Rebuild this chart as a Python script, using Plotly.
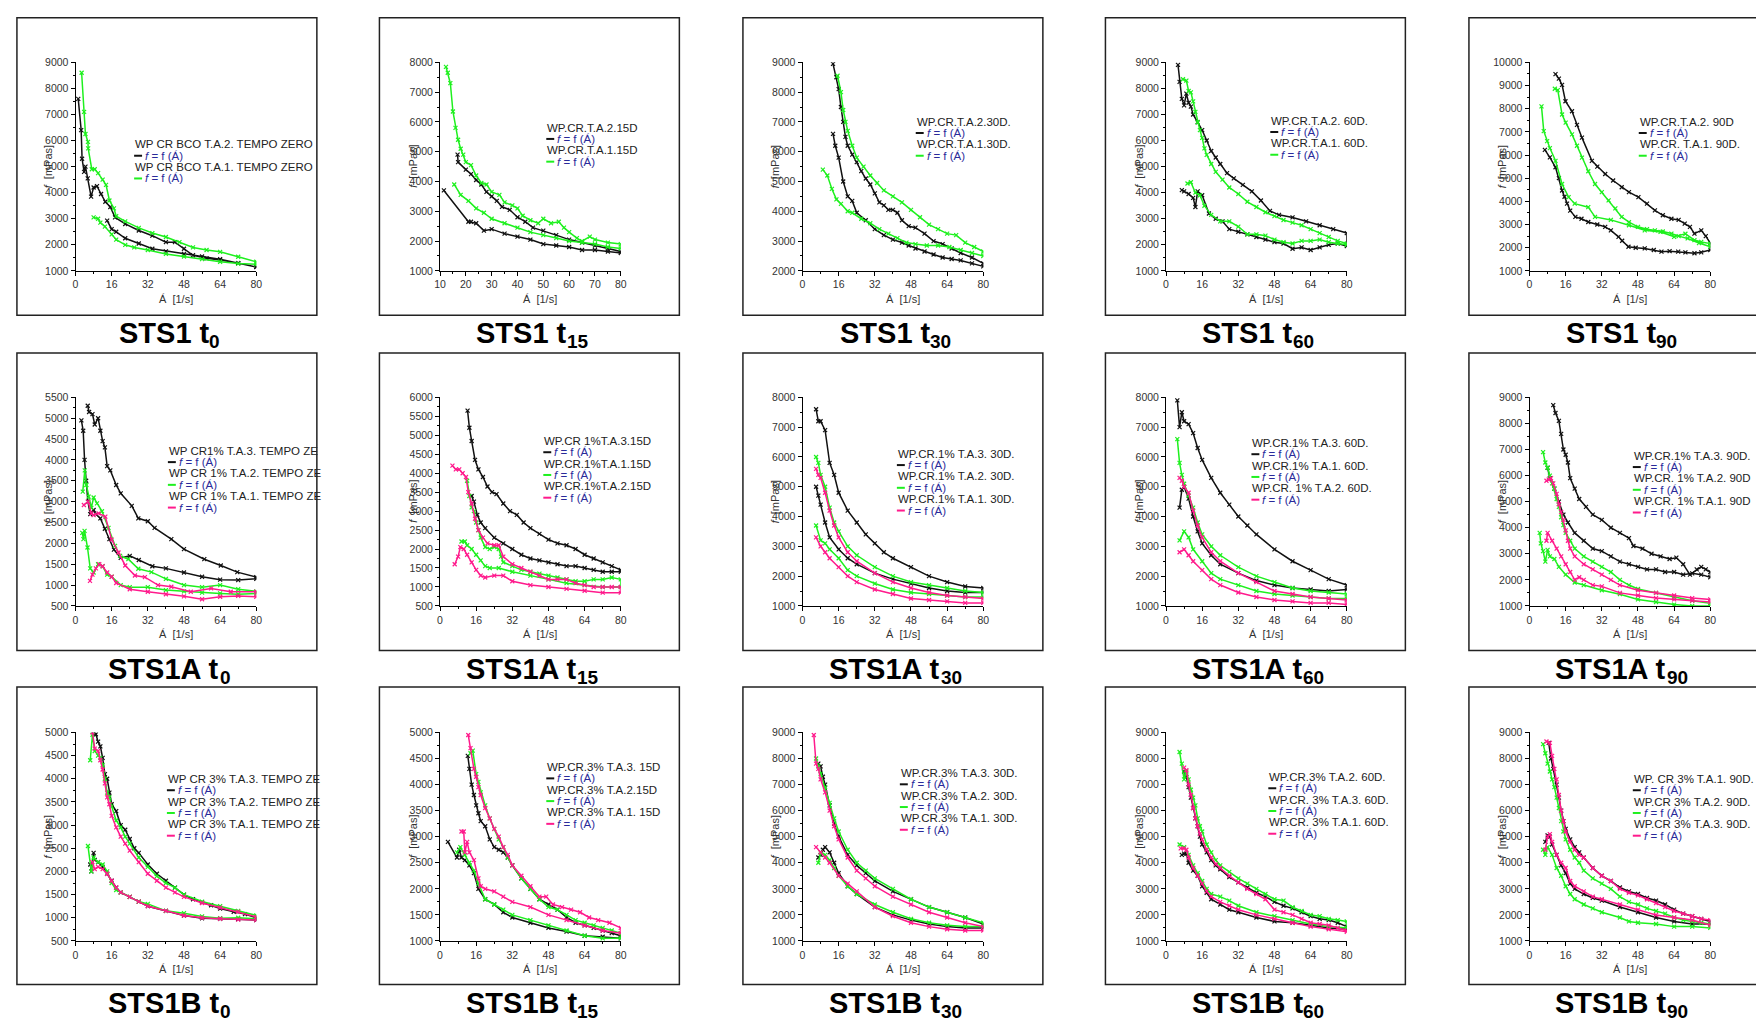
import plotly.graph_objects as go

W, H = 1756, 1028

# ---------------- data (x = shear rate [1/s], y = viscosity [mPas]) ----------------
# each series: upward branch followed by downward branch (hysteresis loop)
P01_K_X = [1.2, 2.5, 2.9, 3.8, 4.4, 5.4, 6.9, 8.0, 9.5, 11.3, 13.2, 15.4, 17.5, 22, 28, 34, 40, 44, 48, 52, 58, 64, 72, 80,
           80, 72, 64, 56, 48, 40, 34, 28, 22, 18, 16, 14]
P01_K_Y = [7600, 6400, 5300, 4800, 5000, 4550, 3850, 4200, 4250, 3950, 3650, 3450, 3050, 2800, 2550, 2350, 2100, 2100, 1850, 1600, 1480, 1420, 1300, 1160,
           1150, 1300, 1450, 1550, 1650, 1750, 1850, 2050, 2250, 2500, 2600, 2930]
P01_G_X = [2.7, 3.8, 4.4, 5.5, 5.6, 7.2, 8.5, 10, 12, 13.5, 15, 17, 18, 22, 28, 34, 40, 46, 52, 58, 64, 72, 80,
           80, 72, 64, 56, 48, 40, 32, 26, 22, 18, 16, 13, 11, 10, 8]
P01_G_Y = [8600, 7100, 6250, 5950, 5700, 4900, 4900, 4750, 4500, 4300, 3700, 3400, 3100, 2900, 2650, 2450, 2300, 2100, 1900, 1800, 1730, 1540, 1350,
           1250, 1280, 1350, 1450, 1550, 1650, 1800, 1900, 2000, 2200, 2400, 2700, 2850, 3000, 3050]

P02_K_X = [16.8, 17, 20, 22, 24, 26, 28, 30, 32, 34, 37, 40, 43, 46, 50, 55, 60, 65, 70, 75, 80,
           80, 75, 70, 65, 60, 55, 50, 45, 40, 35, 30, 27, 24, 22, 21, 11.5]
P02_K_Y = [4900, 4650, 4400, 4250, 4050, 3900, 3650, 3500, 3350, 3150, 3050, 2800, 2650, 2450, 2350, 2200, 2050, 1950, 1850, 1750, 1650,
           1600, 1650, 1700, 1700, 1800, 1850, 1900, 2050, 2150, 2250, 2400, 2350, 2600, 2650, 2650, 3700]
P02_G_X = [12.3, 13, 14, 15, 16, 17, 18, 19, 20, 22, 24, 26, 28, 30, 33, 35, 38, 40, 42, 45, 48, 50, 53, 56, 58, 60, 63, 65, 68, 70, 75, 80,
           80, 75, 70, 65, 60, 55, 50, 45, 40, 35, 30, 27, 24, 21, 18, 15.5]
P02_G_Y = [7850, 7650, 7300, 6350, 5800, 5400, 5100, 4900, 4650, 4550, 4200, 3950, 3900, 3650, 3550, 3300, 3200, 3100, 2850, 2700, 2600, 2750, 2600, 2650, 2450, 2300, 2100, 2000, 2150, 2050, 1950, 1900,
           1750, 1800, 1900, 1950, 2000, 2100, 2200, 2300, 2450, 2600, 2750, 2950, 3100, 3350, 3550, 3900]

P03_K_X = [13.5, 15, 16, 17, 18, 19, 20, 22, 24, 26, 28, 30, 32, 34, 36, 38, 40, 42, 44, 47, 50, 54, 58, 62, 66, 70, 75, 80,
           80, 75, 70, 66, 62, 58, 54, 50, 47, 44, 40, 36, 32, 28, 24, 22, 20, 18, 16, 14.5, 13.5]
P03_K_Y = [8950, 8500, 8100, 7500, 7000, 6500, 6200, 5900, 5650, 5350, 5100, 4900, 4600, 4300, 4200, 4050, 4050, 3950, 3700, 3500, 3450, 3250, 3000, 2900, 2750, 2600, 2450, 2250,
           2150, 2250, 2350, 2400, 2450, 2550, 2650, 2750, 2850, 2950, 3050, 3200, 3400, 3700, 3950, 4350, 4500, 5000, 5800, 6200, 6600]
P03_G_X = [15.5, 17, 18, 19, 20, 22, 24, 27, 30, 33, 36, 40, 44, 48, 52, 56, 60, 64, 68, 72, 76, 80,
           80, 75, 70, 65, 60, 55, 50, 46, 42, 38, 34, 30, 26, 22, 20, 17, 15, 13, 11, 9]
P03_G_Y = [8550, 8000, 7400, 7000, 6700, 6200, 5800, 5500, 5200, 4950, 4700, 4500, 4300, 4050, 3800, 3550, 3400, 3250, 3200, 2950, 2800, 2650,
           2500, 2600, 2700, 2800, 2850, 2850, 2900, 2950, 3100, 3250, 3400, 3600, 3750, 3950, 4000, 4250, 4400, 4750, 5200, 5400]

P04_K_X = [5.3, 6, 7, 8, 9, 10, 11, 12, 14, 16, 18, 20, 22, 24, 27, 30, 34, 38, 42, 46, 50, 56, 62, 68, 74, 80,
           80, 76, 72, 68, 64, 60, 56, 52, 48, 44, 40, 36, 32, 28, 25, 22, 19, 16, 14, 13, 12, 10, 8, 7]
P04_K_Y = [8900, 8250, 7600, 7350, 7800, 7450, 7300, 7000, 6700, 6400, 6000, 5600, 5350, 5100, 4750, 4550, 4300, 4050, 3700, 3300, 3150, 3050, 2900, 2750, 2600, 2450,
           1950, 2050, 2000, 1900, 1800, 1900, 1850, 2050, 2100, 2200, 2300, 2400, 2500, 2600, 2900, 3000, 3200, 3900, 4050, 3450, 3800, 3950, 4050, 4100]
P04_G_X = [7.5, 9, 10, 11, 12, 13, 14, 15, 16, 17, 18, 20, 22, 25, 28, 32, 36, 40, 44, 48, 52, 56, 60, 64, 68, 72, 76, 80,
           80, 76, 72, 68, 64, 60, 56, 52, 48, 44, 40, 36, 32, 28, 24, 20, 17, 15, 13, 11, 9.5]
P04_G_Y = [8350, 8300, 7900, 7850, 7500, 7100, 6700, 6400, 6100, 5700, 5450, 5100, 4800, 4500, 4200, 3950, 3650, 3450, 3250, 3100, 2950, 2850, 2750, 2600, 2450, 2300, 2150, 2050,
           2000, 2050, 2100, 2200, 2150, 2150, 2050, 2100, 2200, 2350, 2400, 2400, 2700, 2900, 2900, 3150, 3500, 3900, 4000, 4400, 4350]

P05_K_X = [11.5, 13, 14.4, 15.9, 18.8, 21, 23.2, 27.6, 30, 33.5, 37, 40.8, 44, 48.2, 52, 55.5, 59, 62.8, 66, 68.7, 71, 73, 76, 78, 80,
           80, 76, 73, 69, 65.8, 62, 58.4, 55, 51, 47, 43.8, 41, 39.4, 36, 33.5, 30, 26, 23, 20.3, 18, 16.6, 15.5, 14.4, 13, 11.5, 9, 6.8]
P05_K_Y = [9490, 9300, 9030, 8320, 7890, 7300, 6750, 5750, 5500, 5180, 4900, 4610, 4400, 4180, 3900, 3610, 3400, 3250, 3200, 3040, 2900, 2610, 2750, 2500, 2200,
           1900, 1800, 1760, 1800, 1830, 1850, 1830, 1900, 1970, 2000, 2040, 2300, 2470, 2750, 2900, 3000, 3110, 3250, 3330, 3600, 3900, 4200, 4470, 5000, 5470, 5900, 6220]
P05_G_X = [11.2, 12.5, 14.4, 16, 18.8, 21, 23.2, 26, 29, 32, 35, 38, 40.8, 44, 48, 52, 55.5, 59, 62.8, 66, 70, 75, 80,
           80, 76, 73, 69, 64, 58, 51, 44, 36, 29, 26, 20, 17.3, 14.4, 11.5, 9, 7.8, 6.3, 5.3]
P05_G_Y = [8860, 8800, 7750, 7400, 6890, 6400, 5890, 5300, 4750, 4400, 4040, 3700, 3330, 3100, 2900, 2800, 2750, 2700, 2610, 2500, 2400, 2200, 2040,
           2180, 2250, 2330, 2600, 2470, 2680, 2750, 2970, 3200, 3330, 3750, 3900, 4180, 4750, 5750, 6300, 6600, 7030, 8100]

P06_K_X = [5.4, 6, 7.5, 8.5, 10, 11, 12, 13, 14, 15.4, 18, 20, 24.9, 27.8, 32, 35, 42.4, 48, 57, 64.3, 71.6, 80,
           80, 72, 64, 56, 48, 40, 34, 28, 24, 20, 17, 15, 13, 11, 9, 8, 6.5, 5.5, 4.7, 4, 3.4, 2.6]
P06_K_Y = [5300, 5150, 5100, 4850, 5000, 4700, 4450, 4300, 3850, 3750, 3400, 3200, 2900, 2600, 2530, 2370, 2100, 1860, 1620, 1470, 1310, 1190,
           1150, 1120, 1130, 1200, 1300, 1400, 1450, 1600, 1700, 1650, 1850, 2100, 2350, 2600, 2700, 2800, 2700, 3000, 3500, 4000, 4700, 4950]
P06_G_X = [3.2, 4.1, 4.8, 5.8, 7, 8, 9.5, 11.7, 14.6, 17.5, 19.7, 23.4, 27.8, 33.6, 40, 48, 56, 64, 72, 80,
           80, 72, 64, 56, 48, 40, 32, 24, 20, 16, 14, 12, 10, 8, 6.5, 5.3, 4, 3.5, 3]
P06_G_Y = [3240, 3750, 3400, 3120, 2850, 3100, 2960, 2770, 2370, 1940, 1700, 1620, 1390, 1310, 1150, 1000, 950, 1000, 900, 850,
           800, 780, 800, 820, 850, 880, 950, 950, 1000, 1200, 1250, 1450, 1500, 1300, 1400, 1900, 2300, 2100, 2250]
P06_P_X = [3.7, 5.6, 7, 8, 10.2, 13.2, 16, 19, 22, 26.3, 30.7, 36.5, 42.4, 51, 60, 68.7, 80,
           80, 72, 64, 56, 48, 40, 32, 24, 18, 16, 14, 12, 10.5, 9, 7.5, 6.4]
P06_P_Y = [2920, 3000, 2720, 2680, 2720, 2640, 2090, 1780, 1470, 1230, 1190, 1000, 960, 840, 920, 840, 840,
           720, 740, 720, 660, 730, 780, 840, 900, 1050, 1200, 1300, 1450, 1500, 1400, 1250, 1100]

P07_K_X = [12.2, 13, 14, 15.5, 17, 19, 21, 23, 25, 28, 31, 34, 37, 40, 44, 48, 52, 56, 60, 64, 68, 72, 76, 80,
           80, 76, 72, 68, 64, 60, 56, 52, 48, 44, 40, 36, 32, 28, 24, 20, 18, 16.5, 15, 14]
P07_K_Y = [5650, 5200, 4850, 4350, 4100, 3900, 3650, 3500, 3450, 3200, 3000, 2900, 2700, 2550, 2400, 2250, 2150, 2100, 2000, 1850, 1750, 1650, 1550, 1450,
           1400, 1400, 1400, 1450, 1500, 1550, 1550, 1600, 1650, 1700, 1750, 1850, 2000, 2150, 2300, 2550, 2700, 2900, 3250, 3400]
P07_G_X = [12, 13, 14, 15, 16, 17, 18, 20, 22, 24, 26, 27, 28, 32, 36, 40, 44, 48, 52, 56, 60, 64, 68, 72, 76, 80,
           80, 72, 64, 56, 48, 40, 32, 26, 22, 20, 18, 16, 14, 12, 11, 9.5]
P07_G_Y = [3800, 3400, 3100, 3000, 2700, 2500, 2300, 2050, 2000, 2050, 2000, 1800, 1650, 1550, 1450, 1400, 1350, 1300, 1250, 1200, 1150, 1150, 1200, 1200, 1250, 1200,
           1000, 1000, 1050, 1100, 1200, 1300, 1400, 1500, 1500, 1550, 1700, 1850, 2000, 2100, 2200, 2200]
P07_P_X = [5.5, 7, 8.5, 10, 11.5, 12.5, 14, 15.5, 17, 19, 21, 24, 26, 28, 32, 36, 40, 44, 48, 52, 56, 60, 64, 68, 72, 76, 80,
           80, 72, 64, 56, 48, 40, 32, 28, 24, 20, 18, 16, 14, 12, 10.5, 9, 8, 6.5]
P07_P_Y = [4200, 4100, 4100, 4000, 3900, 3500, 3200, 2800, 2500, 2300, 2150, 2100, 2100, 1800, 1600, 1500, 1400, 1300, 1200, 1200, 1200, 1100, 1050, 1000, 1000, 1000, 1000,
           850, 850, 900, 950, 1000, 1050, 1150, 1300, 1300, 1250, 1300, 1450, 1650, 1850, 2000, 2050, 1800, 1600]

P08_K_X = [6, 7, 8, 10, 12, 14, 16, 20, 24, 28, 32, 36, 40, 48, 56, 64, 72, 80,
           80, 72, 64, 56, 48, 40, 32, 24, 20, 16, 12, 10, 8, 7, 6]
P08_K_Y = [7600, 7200, 7200, 6900, 5800, 5400, 4800, 4200, 3800, 3400, 3100, 2800, 2600, 2300, 2000, 1800, 1650, 1600,
           1450, 1450, 1500, 1600, 1750, 1900, 2100, 2400, 2600, 2900, 3300, 3800, 4400, 4700, 5000]
P08_G_X = [6, 7, 8, 10, 12, 14, 16, 20, 24, 32, 40, 48, 56, 64, 72, 80,
           80, 72, 64, 56, 48, 40, 32, 24, 20, 16, 12, 10, 8, 6]
P08_G_Y = [6000, 5800, 5400, 5000, 4300, 3800, 3500, 3000, 2700, 2300, 2000, 1800, 1700, 1600, 1500, 1450,
           1300, 1300, 1350, 1400, 1450, 1550, 1750, 2000, 2200, 2600, 2900, 3100, 3200, 3700]
P08_P_X = [6, 7, 8, 10, 12, 14, 16, 20, 24, 32, 40, 48, 56, 64, 72, 80,
           80, 72, 64, 56, 48, 40, 32, 24, 20, 16, 12, 10, 8, 6]
P08_P_Y = [5600, 5400, 5300, 4800, 4200, 3700, 3300, 2800, 2500, 2100, 1800, 1600, 1450, 1350, 1300, 1250,
           1100, 1100, 1150, 1200, 1250, 1400, 1550, 1800, 2000, 2300, 2600, 2800, 3000, 3300]

P09_K_X = [5, 6, 7, 8, 10, 12, 14, 16, 20, 24, 28, 32, 36, 40, 48, 56, 64, 72, 80,
           80, 72, 64, 56, 48, 40, 32, 24, 20, 16, 14, 12, 10, 8, 7, 6]
P09_K_Y = [7900, 7000, 7500, 7200, 7100, 6800, 6300, 5900, 5300, 4800, 4400, 4000, 3700, 3400, 2900, 2500, 2200, 1900, 1700,
           1550, 1500, 1550, 1600, 1700, 1850, 2100, 2400, 2700, 3100, 3500, 4000, 4600, 5000, 4900, 4300]
P09_G_X = [5, 6, 7, 8, 10, 12, 14, 16, 20, 24, 32, 40, 48, 56, 64, 72, 80,
           80, 72, 64, 56, 48, 40, 32, 24, 20, 16, 12, 10, 8, 6]
P09_G_Y = [6600, 5800, 5400, 5100, 4700, 4300, 3800, 3400, 3000, 2700, 2300, 2000, 1800, 1600, 1500, 1450, 1400,
           1250, 1250, 1300, 1350, 1400, 1500, 1700, 1900, 2100, 2500, 2900, 3300, 3500, 3200]
P09_P_X = [6, 7, 8, 10, 12, 14, 16, 20, 24, 32, 40, 48, 56, 64, 72, 80,
           80, 72, 64, 56, 48, 40, 32, 24, 20, 16, 12, 10, 8, 6]
P09_P_Y = [5300, 5200, 5000, 4800, 4200, 3700, 3300, 2800, 2500, 2100, 1800, 1500, 1400, 1300, 1250, 1200,
           1050, 1100, 1100, 1150, 1200, 1300, 1450, 1700, 1900, 2200, 2500, 2700, 2900, 2800]

P10_K_X = [10.5, 11.5, 13, 14, 15, 16, 17, 18, 20, 22, 25, 28, 32, 36, 40, 44, 46, 50, 54, 58, 62, 65, 68, 71, 74, 76, 78, 80,
           80, 76, 72, 68, 64, 60, 56, 52, 48, 44, 40, 36, 32, 28, 24, 20, 17, 15, 13, 11, 9, 8]
P10_K_Y = [8700, 8400, 8100, 7600, 7000, 6800, 6500, 5900, 5500, 5100, 4800, 4500, 4300, 4000, 3800, 3600, 3300, 3200, 3000, 2900, 2800, 2850, 2600, 2200, 2400, 2500, 2400, 2300,
           2100, 2200, 2250, 2200, 2300, 2300, 2400, 2400, 2500, 2600, 2700, 2900, 3100, 3200, 3500, 3800, 4200, 4500, 5000, 5500, 5900, 6300]
P10_G_X = [6, 7, 8, 9, 10, 11, 12, 13, 14, 15, 16, 18, 20, 24, 28, 32, 36, 40, 44, 48, 56, 64, 72, 80,
           80, 72, 64, 56, 48, 40, 32, 24, 20, 16, 13, 11, 9, 8, 7, 6, 5, 4.5]
P10_G_Y = [6900, 6500, 6300, 6000, 5700, 5500, 5100, 4800, 4400, 4100, 3800, 3500, 3200, 2900, 2700, 2500, 2300, 2000, 1800, 1650, 1500, 1350, 1200, 1100,
           1000, 1000, 1050, 1150, 1250, 1450, 1600, 1800, 1900, 2200, 2500, 2800, 2900, 3150, 2700, 3100, 3400, 3800]
P10_P_X = [7.5, 8.5, 9.5, 10.5, 12, 13, 14, 15, 16, 17, 18, 20, 24, 28, 32, 36, 40, 48, 56, 64, 72, 80,
           80, 72, 64, 56, 48, 40, 32, 28, 24, 22, 20, 18, 16, 14, 12, 10, 8, 7.5]
P10_P_Y = [5800, 5850, 5900, 5700, 5300, 4900, 4600, 4300, 3900, 3500, 3200, 2900, 2600, 2400, 2200, 2000, 1800, 1600, 1500, 1400, 1300, 1250,
           1150, 1200, 1250, 1300, 1400, 1500, 1750, 1800, 2000, 2100, 2000, 2300, 2600, 2900, 3200, 3500, 3800, 3500]

P11_K_X = [8, 9, 10, 11, 12, 13, 14, 15, 16, 18, 20, 22, 24, 26, 28, 32, 36, 40, 44, 48, 52, 56, 60, 64, 70, 75, 80,
           80, 72, 64, 56, 48, 40, 32, 28, 24, 20, 18, 16, 14, 12, 10, 8.5, 8, 7, 6.5]
P11_K_Y = [4970, 4960, 4800, 4700, 4450, 4100, 4000, 3700, 3450, 3300, 3000, 2900, 2700, 2500, 2400, 2150, 1950, 1800, 1650, 1500, 1400, 1330, 1270, 1200, 1130, 1080, 1000,
           950, 970, 980, 990, 1050, 1150, 1250, 1350, 1450, 1550, 1650, 1800, 1950, 2100, 2200, 2250, 2400, 2000, 2150]
P11_G_X = [6.5, 7.5, 8.5, 10, 11, 12, 13, 14, 15, 16, 18, 20, 22, 24, 28, 32, 36, 40, 44, 48, 56, 64, 72, 80,
           80, 72, 64, 56, 48, 40, 32, 28, 24, 20, 18, 16, 14, 12, 10, 8, 7, 5.5]
P11_G_Y = [4400, 4950, 4600, 4500, 4450, 4300, 4000, 3700, 3600, 3400, 3100, 2950, 2750, 2600, 2300, 2100, 1900, 1750, 1650, 1500, 1350, 1250, 1150, 1050,
           980, 1000, 990, 1030, 1100, 1150, 1300, 1350, 1450, 1550, 1600, 1750, 2000, 2150, 2200, 2300, 2000, 2550]
P11_P_X = [7.5, 8.5, 10, 11, 12, 13, 14, 15, 16, 18, 20, 22, 24, 28, 32, 36, 40, 44, 48, 56, 64, 72, 80,
           80, 72, 64, 56, 48, 40, 32, 28, 24, 20, 18, 16, 14, 12, 10, 8.5, 7.5]
P11_P_Y = [5000, 4650, 4600, 4400, 4200, 3900, 3600, 3450, 3200, 2950, 2750, 2600, 2450, 2200, 1950, 1800, 1650, 1550, 1450, 1320, 1220, 1130, 1020,
           950, 960, 980, 1000, 1050, 1150, 1250, 1350, 1450, 1550, 1650, 1800, 1950, 2050, 2100, 2050, 2200]

P12_K_X = [12.3, 13, 14, 15, 16, 17, 18, 20, 22, 24, 26, 28, 30, 32, 36, 40, 44, 48, 52, 56, 60, 64, 68, 72, 76, 80,
           80, 72, 64, 56, 48, 40, 32, 28, 24, 20, 17, 15, 13, 11, 9.5, 8.5, 7.5, 3.5]
P12_K_Y = [4550, 4300, 4000, 3800, 3600, 3450, 3300, 3200, 2950, 2800, 2750, 2700, 2600, 2450, 2200, 2000, 1800, 1700, 1600, 1450, 1350, 1300, 1250, 1200, 1150, 1100,
           1050, 1080, 1100, 1180, 1250, 1350, 1450, 1550, 1700, 1800, 2000, 2300, 2450, 2550, 2600, 2750, 2600, 2900]
P12_G_X = [13.5, 14.5, 16, 17, 18, 20, 22, 24, 26, 28, 30, 32, 36, 40, 44, 48, 52, 56, 60, 64, 68, 72, 76, 80,
           80, 72, 64, 56, 48, 40, 32, 28, 24, 20, 17, 15, 13, 11, 9, 7.5]
P12_G_Y = [4600, 4650, 4200, 4050, 3850, 3600, 3350, 3150, 2950, 2800, 2600, 2450, 2200, 2000, 1800, 1650, 1600, 1500, 1400, 1350, 1300, 1250, 1200, 1150,
           1050, 1050, 1100, 1200, 1300, 1400, 1500, 1600, 1700, 1800, 2100, 2350, 2500, 2650, 2800, 2700]
P12_P_X = [12.5, 13.5, 15, 16, 17, 18, 20, 22, 24, 26, 28, 30, 32, 36, 40, 44, 47, 50, 54, 58, 62, 66, 70, 75, 80,
           80, 72, 64, 56, 48, 40, 32, 28, 24, 20, 18, 17, 15, 13, 12, 11, 10.5, 9.5]
P12_P_Y = [4950, 4700, 4300, 4150, 3950, 3800, 3550, 3350, 3150, 3000, 2800, 2650, 2450, 2250, 2050, 1850, 1850, 1700, 1650, 1600, 1550, 1450, 1400, 1350, 1250,
           1150, 1200, 1300, 1400, 1500, 1650, 1750, 1850, 1950, 2000, 2050, 2200, 2550, 2700, 2900, 2700, 3100, 3100]

P13_K_X = [7, 8, 9, 10, 12, 14, 16, 20, 24, 28, 32, 40, 48, 56, 64, 72, 80,
           80, 72, 64, 56, 48, 40, 32, 24, 20, 16, 14, 12, 10, 9, 8, 7]
P13_K_Y = [7800, 7700, 7300, 7000, 6200, 5500, 5000, 4300, 3900, 3600, 3300, 2900, 2600, 2300, 2100, 1900, 1650,
           1500, 1500, 1550, 1650, 1800, 2000, 2300, 2800, 3100, 3600, 4000, 4400, 4600, 4500, 4300, 4200]
P13_G_X = [6, 7, 8, 10, 12, 14, 16, 20, 24, 28, 32, 40, 48, 56, 64, 72, 80,
           80, 72, 64, 56, 48, 40, 32, 24, 20, 16, 14, 12, 10, 8, 7]
P13_G_Y = [8000, 7700, 7400, 6900, 6300, 5700, 5200, 4500, 4000, 3700, 3400, 3000, 2600, 2300, 2100, 1900, 1700,
           1550, 1550, 1600, 1700, 1850, 2100, 2400, 2800, 3100, 3500, 3800, 4100, 4300, 4400, 4000]
P13_P_X = [5, 6, 7, 8, 10, 12, 14, 16, 20, 24, 28, 32, 40, 48, 56, 64, 72, 80,
           80, 72, 64, 56, 48, 40, 32, 24, 20, 16, 12, 10, 8, 6]
P13_P_Y = [8900, 7800, 7600, 7200, 6700, 6000, 5400, 4900, 4200, 3700, 3400, 3100, 2700, 2400, 2100, 1900, 1700, 1550,
           1400, 1400, 1450, 1550, 1700, 1950, 2300, 2900, 3200, 3500, 4000, 4200, 4400, 4600]

P14_K_X = [8, 9, 10, 11, 12, 13, 14, 15, 16, 18, 20, 22, 24, 28, 32, 36, 40, 44, 48, 52, 56, 60, 64, 68, 72, 76, 80,
           80, 72, 64, 56, 48, 40, 32, 28, 24, 20, 18, 16, 14, 12, 10, 9, 8, 7]
P14_K_Y = [7500, 7300, 6900, 6500, 6100, 5700, 5400, 5000, 4700, 4400, 4100, 3900, 3750, 3450, 3250, 3050, 2850, 2700, 2500, 2350, 2250, 2100, 1950, 1850, 1800, 1700, 1550,
           1450, 1500, 1600, 1700, 1750, 1900, 2100, 2200, 2400, 2600, 2850, 3100, 3500, 3700, 4000, 4350, 4350, 4300]
P14_G_X = [6, 7, 8, 9, 10, 11, 12, 13, 14, 15, 16, 18, 20, 22, 24, 28, 32, 36, 40, 44, 48, 52, 56, 60, 64, 68, 72, 76, 80,
           80, 72, 64, 56, 48, 40, 32, 28, 24, 20, 18, 16, 14, 12, 10, 8, 6]
P14_G_Y = [8250, 7800, 7200, 7500, 7200, 6800, 6500, 6200, 5700, 5400, 5200, 4700, 4400, 4100, 3900, 3650, 3400, 3200, 3000, 2800, 2600, 2550, 2300, 2150, 2000, 1950, 1850, 1800, 1750,
           1500, 1550, 1650, 1800, 1950, 2100, 2350, 2550, 2700, 2800, 3000, 3300, 3600, 3900, 4300, 4600, 4700]
P14_P_X = [8, 9, 10, 11, 12, 13, 14, 15, 16, 18, 20, 22, 24, 28, 32, 36, 40, 44, 48, 52, 56, 60, 64, 68, 72, 76, 80,
           80, 72, 64, 56, 48, 40, 32, 28, 24, 20, 18, 16, 14, 12, 10, 9, 8, 6.5]
P14_P_Y = [7650, 7550, 7000, 6600, 6100, 5700, 5400, 5100, 4900, 4500, 4200, 3950, 3800, 3500, 3250, 3000, 2800, 2600, 2200, 2100, 2000, 1850, 1700, 1650, 1600, 1500, 1400,
           1350, 1450, 1550, 1700, 1850, 2000, 2200, 2350, 2500, 2700, 2900, 3200, 3500, 3800, 4200, 4500, 4550, 4550]

P15_K_X = [8.5, 9.5, 10.5, 12, 13, 14, 15, 16, 18, 20, 22, 24, 28, 32, 36, 40, 44, 48, 52, 56, 60, 64, 68, 72, 76, 80,
           80, 72, 64, 56, 48, 40, 32, 28, 24, 20, 18, 16, 14, 12, 10, 9, 8, 7]
P15_K_Y = [8600, 8000, 7600, 7000, 6500, 6000, 5600, 5300, 4900, 4600, 4400, 4200, 3800, 3500, 3300, 3050, 2900, 2800, 2650, 2550, 2400, 2200, 2050, 1950, 1850, 1750,
           1650, 1650, 1750, 1900, 2100, 2300, 2550, 2650, 2800, 3000, 3200, 3600, 3900, 4300, 4700, 5000, 5050, 4800]
P15_G_X = [6, 7, 8, 9, 10, 11, 12, 13, 14, 15, 16, 18, 20, 22, 24, 28, 32, 36, 40, 44, 48, 52, 56, 60, 64, 68, 72, 76, 80,
           80, 72, 64, 56, 48, 44, 40, 32, 28, 24, 20, 18, 16, 14, 12, 10, 8, 7, 6]
P15_G_Y = [8550, 8200, 7800, 7500, 7200, 6900, 6500, 6100, 5600, 5200, 4900, 4500, 4200, 4000, 3700, 3400, 3200, 3000, 2700, 2500, 2400, 2250, 2150, 2050, 1900, 1800, 1750, 1700, 1650,
           1500, 1550, 1550, 1650, 1700, 1750, 1900, 2100, 2250, 2400, 2600, 2800, 3100, 3500, 3800, 4300, 4600, 4300, 4500]
P15_P_X = [7.5, 9, 10, 11, 12, 13, 14, 15, 16, 18, 20, 22, 24, 28, 32, 36, 40, 44, 48, 52, 56, 60, 64, 68, 72, 76, 80,
           80, 72, 64, 56, 48, 40, 32, 28, 24, 20, 18, 16, 14, 12, 10, 9, 8, 7]
P15_P_Y = [8650, 8600, 8100, 7600, 7200, 6600, 6000, 5600, 5200, 4800, 4500, 4300, 4200, 3800, 3500, 3300, 3000, 2850, 2750, 2600, 2450, 2300, 2150, 2050, 1950, 1850, 1800,
           1600, 1800, 1900, 2000, 2200, 2400, 2600, 2700, 2900, 3100, 3300, 3800, 4000, 4300, 4800, 5100, 5000, 4500]

# ---------------- panel meta ----------------
TITLE_MAIN = ["STS1 t"] * 5 + ["STS1A t"] * 5 + ["STS1B t"] * 5
TITLE_SUB = ["0", "15", "30", "60", "90"] * 3
Y_RANGES = [[1000, 9000], [1000, 8000], [2000, 9000], [1000, 9000], [1000, 10000],
            [500, 5500], [500, 6000], [1000, 8000], [1000, 8000], [1000, 9000],
            [500, 5000], [1000, 5000], [1000, 9000], [1000, 9000], [1000, 9000]]
Y_STEPS = [1000, 1000, 1000, 1000, 1000, 500, 500, 1000, 1000, 1000, 500, 500, 1000, 1000, 1000]
X_RANGES = [[0, 80], [10, 80]] + [[0, 80]] * 13
X_STEPS = [16, 10] + [16] * 13

BLACK, GREEN, PINK = "#111111", "#1ef01e", "#ff1a8c"

SERIES = [
    [("WP CR BCO T.A.2. TEMPO ZERO", BLACK, P01_K_X, P01_K_Y), ("WP CR BCO T.A.1. TEMPO ZERO", GREEN, P01_G_X, P01_G_Y)],
    [("WP.CR.T.A.2.15D", BLACK, P02_K_X, P02_K_Y), ("WP.CR.T.A.1.15D", GREEN, P02_G_X, P02_G_Y)],
    [("WP.CR.T.A.2.30D.", BLACK, P03_K_X, P03_K_Y), ("WP.CR.T.A.1.30D.", GREEN, P03_G_X, P03_G_Y)],
    [("WP.CR.T.A.2. 60D.", BLACK, P04_K_X, P04_K_Y), ("WP.CR.T.A.1. 60D.", GREEN, P04_G_X, P04_G_Y)],
    [("WP.CR.T.A.2. 90D", BLACK, P05_K_X, P05_K_Y), ("WP.CR. T.A.1. 90D.", GREEN, P05_G_X, P05_G_Y)],
    [("WP CR1% T.A.3. TEMPO ZE", BLACK, P06_K_X, P06_K_Y), ("WP CR 1% T.A.2. TEMPO ZE", GREEN, P06_G_X, P06_G_Y),
     ("WP CR 1% T.A.1. TEMPO ZE", PINK, P06_P_X, P06_P_Y)],
    [("WP.CR 1%T.A.3.15D", BLACK, P07_K_X, P07_K_Y), ("WP.CR.1%T.A.1.15D", GREEN, P07_G_X, P07_G_Y),
     ("WP.CR.1%T.A.2.15D", PINK, P07_P_X, P07_P_Y)],
    [("WP.CR.1% T.A.3. 30D.", BLACK, P08_K_X, P08_K_Y), ("WP.CR.1% T.A.2. 30D.", GREEN, P08_G_X, P08_G_Y),
     ("WP.CR.1% T.A.1. 30D.", PINK, P08_P_X, P08_P_Y)],
    [("WP.CR.1% T.A.3. 60D.", BLACK, P09_K_X, P09_K_Y), ("WP.CR.1% T.A.1. 60D.", GREEN, P09_G_X, P09_G_Y),
     ("WP.CR. 1% T.A.2. 60D.", PINK, P09_P_X, P09_P_Y)],
    [("WP.CR.1% T.A.3. 90D.", BLACK, P10_K_X, P10_K_Y), ("WP.CR. 1% T.A.2. 90D", GREEN, P10_G_X, P10_G_Y),
     ("WP.CR. 1% T.A.1. 90D", PINK, P10_P_X, P10_P_Y)],
    [("WP CR 3% T.A.3. TEMPO ZE", BLACK, P11_K_X, P11_K_Y), ("WP CR 3% T.A.2. TEMPO ZE", GREEN, P11_G_X, P11_G_Y),
     ("WP CR 3% T.A.1. TEMPO ZE", PINK, P11_P_X, P11_P_Y)],
    [("WP.CR.3% T.A.3. 15D", BLACK, P12_K_X, P12_K_Y), ("WP.CR.3% T.A.2.15D", GREEN, P12_G_X, P12_G_Y),
     ("WP.CR.3% T.A.1. 15D", PINK, P12_P_X, P12_P_Y)],
    [("WP.CR.3% T.A.3. 30D.", BLACK, P13_K_X, P13_K_Y), ("WP.CR.3% T.A.2. 30D.", GREEN, P13_G_X, P13_G_Y),
     ("WP.CR.3% T.A.1. 30D.", PINK, P13_P_X, P13_P_Y)],
    [("WP.CR.3% T.A.2. 60D.", BLACK, P14_K_X, P14_K_Y), ("WP.CR. 3% T.A.3. 60D.", GREEN, P14_G_X, P14_G_Y),
     ("WP.CR. 3% T.A.1. 60D.", PINK, P14_P_X, P14_P_Y)],
    [("WP. CR 3% T.A.1. 90D.", BLACK, P15_K_X, P15_K_Y), ("WP.CR 3% T.A.2. 90D.", GREEN, P15_G_X, P15_G_Y),
     ("WP.CR 3% T.A.3. 90D.", PINK, P15_P_X, P15_P_Y)],
]

# ---------------- layout geometry (pixels) ----------------
COL_AX = [70, 437, 802, 1168, 1534]
AX_W = 182
ROW_TOP = [57, 396, 735]
AX_H = 211
FRAME_L = [11, 376, 742, 1107, 1473]
FRAME_W = 302
FRAME_T = [12, 351, 689]
FRAME_H = 301
TITLE_Y = [331, 671, 1009]
LEG_POS = [(128, 140), (543, 123), (915, 117), (1272, 116), (1643, 117),
           (162, 450), (540, 440), (896, 453), (1253, 442), (1637, 455),
           (161, 782), (543, 770), (899, 776), (1270, 780), (1637, 782)]
LEG_STEP = 11.5
TITLE_SIZE, SUB_SIZE = 29, 19

FONT = "Arial, Liberation Sans, sans-serif"
# Arial bold advance widths (per 1000 em) for title width estimation
BOLD_W = {"S": 667, "T": 611, "1": 556, " ": 278, "t": 333, "A": 722, "B": 722,
          "0": 556, "3": 556, "5": 556, "6": 556, "9": 556}


def text_w(s, size):
    return sum(BOLD_W.get(ch, 600) for ch in s) * size / 1000.0


def px(x):
    return x / W


def py(y):
    return 1 - y / H


fig = go.Figure()
annotations = []
shapes = []
layout = {}

for i in range(15):
    r, c = divmod(i, 5)
    sfx = "" if i == 0 else str(i + 1)
    xa, ya = "x" + sfx, "y" + sfx
    for name, color, xs, ys in SERIES[i]:
        fig.add_trace(go.Scatter(
            x=xs, y=ys, xaxis=xa, yaxis=ya, mode="lines+markers", showlegend=False, name=name,
            line=dict(color=color, width=1.5),
            marker=dict(symbol="x-thin", size=4, color=color, line=dict(width=1.2, color=color))))

    x0 = COL_AX[c]
    top = ROW_TOP[r]
    axis_common = dict(showline=True, linecolor="black", linewidth=1, ticks="outside", ticklen=4,
                       tickcolor="black", tickwidth=1, showgrid=False, zeroline=False, tickformat="d",
                       tickfont=dict(family=FONT, size=10.5, color="#333333"))
    xr = X_RANGES[i]
    layout["xaxis" + sfx] = dict(
        domain=[px(x0), px(x0 + AX_W)], range=xr, anchor=ya, tick0=xr[0], dtick=X_STEPS[i],
        minor=dict(ticks="outside", ticklen=2, tickcolor="black", dtick=X_STEPS[i] / 2, tick0=xr[0]),
        **axis_common)
    yr = Y_RANGES[i]
    layout["yaxis" + sfx] = dict(
        domain=[py(top + AX_H), py(top)], range=yr, anchor=xa, tick0=yr[0], dtick=Y_STEPS[i],
        minor=dict(ticks="outside", ticklen=2, tickcolor="black", dtick=Y_STEPS[i] / 2, tick0=yr[0]),
        **axis_common)

    # frame
    fl, ft = FRAME_L[c], FRAME_T[r]
    shapes.append(dict(type="rect", xref="paper", yref="paper", x0=px(fl), x1=px(fl + FRAME_W),
                       y0=py(ft + FRAME_H), y1=py(ft), line=dict(color="#222222", width=1.5)))
    # panel title (main text + separate subscript)
    main, sub = TITLE_MAIN[i], TITLE_SUB[i]
    mw, sw = text_w(main, TITLE_SIZE), text_w(sub, SUB_SIZE)
    left = fl + FRAME_W / 2 - (mw + sw) / 2
    annotations.append(dict(text="<b>" + main + "</b>", x=px(left), y=py(TITLE_Y[r]),
                            xref="paper", yref="paper", showarrow=False, xanchor="left", yanchor="middle",
                            font=dict(family=FONT, size=TITLE_SIZE, color="black")))
    annotations.append(dict(text="<b>" + sub + "</b>", x=px(left + mw + 1), y=py(TITLE_Y[r] + 8),
                            xref="paper", yref="paper", showarrow=False, xanchor="left", yanchor="middle",
                            font=dict(family=FONT, size=SUB_SIZE, color="black")))
    # axis titles
    annotations.append(dict(text="Á\u00a0 [1/s]", x=px(x0 + AX_W / 2 + 10), y=py(top + AX_H + 28),
                            xref="paper", yref="paper", showarrow=False, xanchor="center", yanchor="middle",
                            font=dict(family=FONT, size=11, color="#333333")))
    annotations.append(dict(text="<i>f</i>\u00a0 [mPas]", x=px(x0 - 28), y=py(top + AX_H / 2), textangle=-90,
                            xref="paper", yref="paper", showarrow=False, xanchor="center", yanchor="middle",
                            font=dict(family=FONT, size=11, color="#333333")))
    # legend text block
    lx, ly = LEG_POS[i]
    for j, (name, color, _, _) in enumerate(SERIES[i]):
        y_name = ly + 2 * j * LEG_STEP
        y_sym = y_name + LEG_STEP
        annotations.append(dict(text=name, x=px(lx), y=py(y_name), xref="paper", yref="paper",
                                showarrow=False, xanchor="left", yanchor="middle",
                                font=dict(family=FONT, size=11.5, color="#222222")))
        annotations.append(dict(text="<i>f</i> = f (Á)", x=px(lx + 10), y=py(y_sym), xref="paper", yref="paper",
                                showarrow=False, xanchor="left", yanchor="middle",
                                font=dict(family=FONT, size=11.5, color="#2a2a9a")))
        shapes.append(dict(type="line", xref="paper", yref="paper", x0=px(lx + 1), x1=px(lx + 9),
                           y0=py(y_sym), y1=py(y_sym), line=dict(color=color, width=2)))

fig.update_layout(width=W, height=H, margin=dict(l=0, r=0, t=0, b=0),
                  paper_bgcolor="white", plot_bgcolor="white", showlegend=False,
                  annotations=annotations, shapes=shapes, **layout)

fig.write_html("out.html")
